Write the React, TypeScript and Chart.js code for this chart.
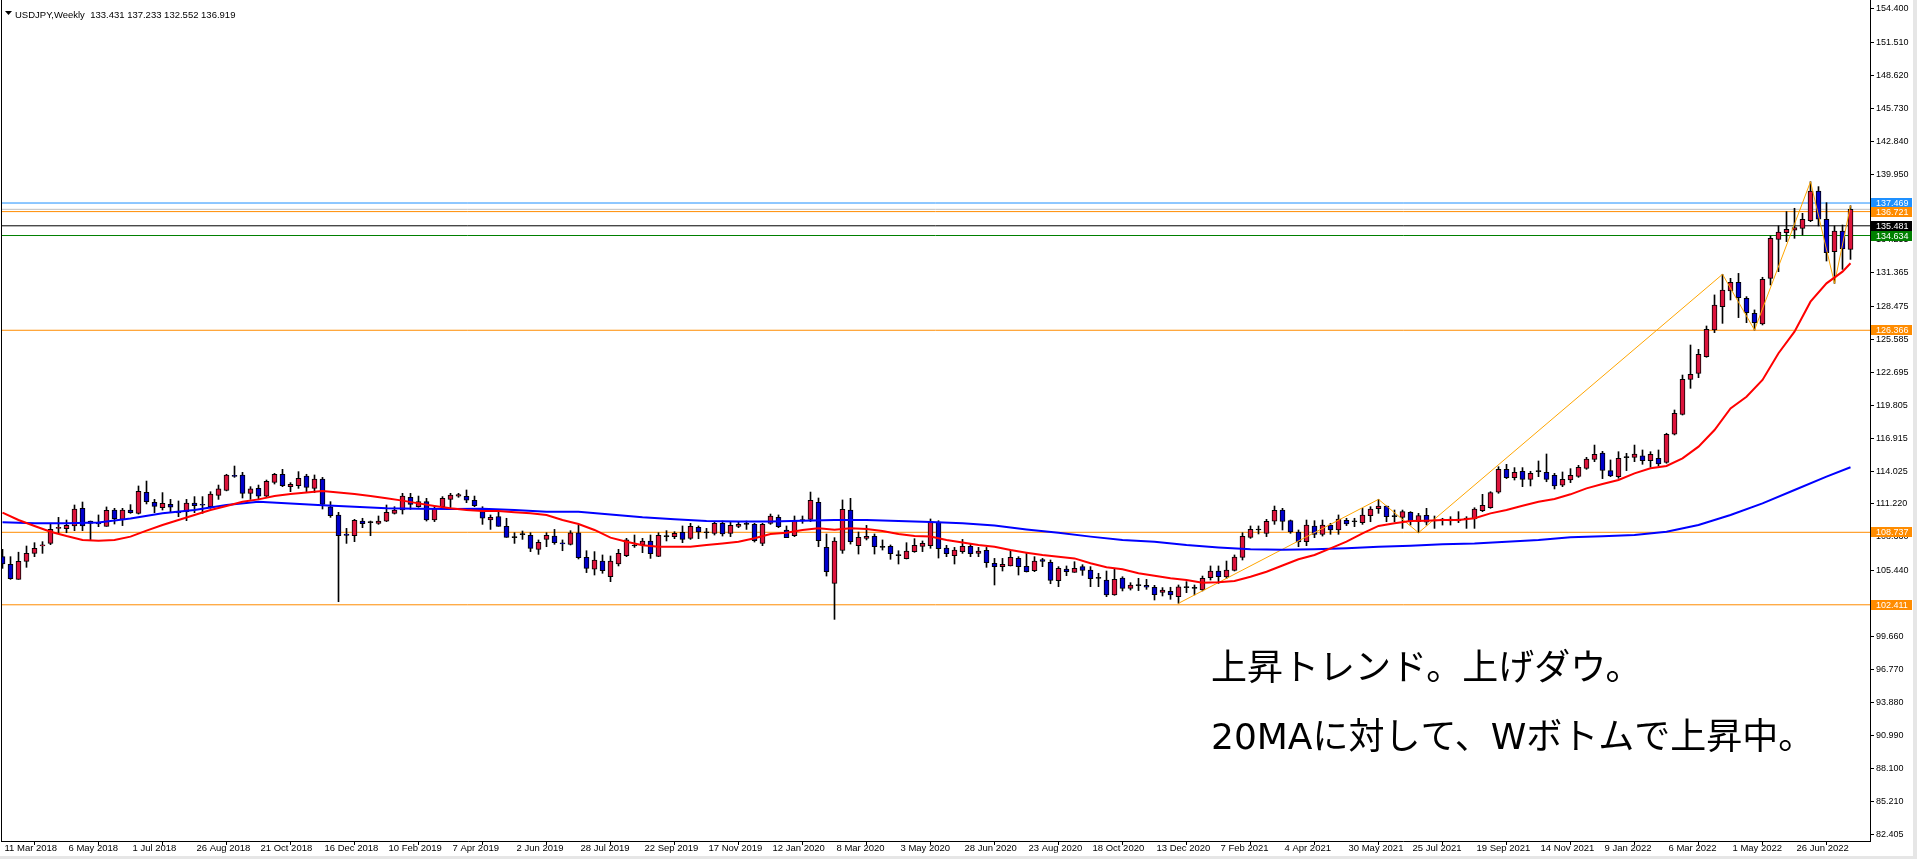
import React, { useEffect, useRef } from "react";
import { Chart, registerables } from "chart.js";

Chart.register(...registerables);

// ---------------- data ----------------
const symbolTitle = "USDJPY,Weekly";
const lastBarOHLC = ["133.431", "137.233", "132.552", "136.919"];

const xTickLabels = [
  "11 Mar 2018", "6 May 2018", "1 Jul 2018", "26 Aug 2018", "21 Oct 2018", "16 Dec 2018",
  "10 Feb 2019", "7 Apr 2019", "2 Jun 2019", "28 Jul 2019", "22 Sep 2019", "17 Nov 2019",
  "12 Jan 2020", "8 Mar 2020", "3 May 2020", "28 Jun 2020", "23 Aug 2020", "18 Oct 2020",
  "13 Dec 2020", "7 Feb 2021", "4 Apr 2021", "30 May 2021", "25 Jul 2021", "19 Sep 2021",
  "14 Nov 2021", "9 Jan 2022", "6 Mar 2022", "1 May 2022", "26 Jun 2022",
];
const xTickEvery = 8; // weeks between date labels

const yTickValues = [
  154.4, 151.51, 148.62, 145.73, 142.84, 139.95, 137.06, 134.255, 131.365, 128.475, 125.585,
  122.695, 119.805, 116.915, 114.025, 111.22, 108.33, 105.44, 102.55, 99.66, 96.77, 93.88,
  90.99, 88.1, 85.21, 82.405,
];

const opens = [
  106.61, 105.94, 104.63, 106.2, 106.9, 107.55, 107.77, 109.08, 109.05, 109.29,
  110.83, 109.72, 109.55, 109.26, 110.68, 109.87, 110.68, 110.39, 112.22, 111.35,
  110.89, 111.18, 110.48, 110.54, 111.29, 111.12, 110.97, 111.96, 112.4, 113.7,
  113.74, 112.14, 112.57, 111.88, 113.1, 113.8, 112.72, 112.81, 113.65, 112.57,
  113.39, 110.97, 110.25, 108.59, 108.44, 109.72, 109.58, 109.52, 109.7, 110.39,
  110.68, 111.79, 110.97, 111.41, 109.81, 110.97, 111.61, 111.88, 111.88, 111.53,
  110.54, 109.81, 110.1, 109.26, 108.27, 108.53, 108.47, 107.25, 108.12, 108.41,
  107.8, 107.69, 108.7, 106.55, 105.51, 106.23, 104.86, 105.97, 106.7, 107.54,
  107.63, 107.98, 106.64, 108.36, 108.36, 108.73, 108.21, 109.17, 108.7, 108.65,
  109.52, 108.65, 109.26, 109.43, 109.43, 107.77, 109.52, 110.04, 108.94, 108.44,
  109.75, 109.87, 111.35, 107.42, 104.28, 107.16, 110.68, 107.57, 108.21, 108.39,
  107.42, 107.51, 106.7, 106.44, 107.05, 107.51, 107.57, 109.63, 107.37, 106.7,
  107.05, 107.51, 106.9, 107.16, 106.03, 105.74, 105.8, 106.46, 105.77, 105.39,
  106.35, 106.12, 104.51, 105.53, 105.24, 105.74, 105.45, 104.72, 104.57, 103.27,
  104.75, 103.85, 104.08, 104.11, 103.94, 103.5, 103.59, 103.12, 103.91, 103.85,
  103.7, 104.78, 105.36, 104.84, 105.42, 106.55, 108.3, 108.94, 108.65, 109.7,
  110.68, 109.75, 108.76, 107.92, 109.29, 108.56, 109.37, 108.94, 109.78, 109.66,
  109.58, 110.19, 110.8, 111.03, 110.1, 110.04, 110.48, 109.66, 110.22, 109.72,
  109.81, 109.9, 109.72, 109.9, 109.9, 110.62, 110.88, 112.23, 114.23, 113.5,
  114.06, 113.36, 114.03, 113.97, 113.71, 112.86, 113.3, 113.62, 114.32, 115.1,
  115.66, 114.12, 113.59, 115.25, 115.28, 115.4, 114.99, 115.19, 114.84, 117.29,
  119.03, 122.08, 122.61, 124.06, 126.39, 128.42, 129.79, 130.55, 129.15, 127.85,
  126.91, 130.9, 134.3, 134.88, 135.09, 135.26, 135.93, 138.52, 136.05, 133.23,
  135.03, 133.431,
];
const highs = [
  107.25, 106.61, 107.0, 107.54, 107.83, 107.92, 109.46, 110.04, 109.81, 111.12,
  111.38, 109.72, 110.25, 110.95, 110.83, 110.83, 111.15, 112.78, 113.21, 111.61,
  112.2, 111.61, 111.47, 111.61, 111.85, 111.85, 112.28, 112.86, 113.8, 114.52,
  113.97, 112.72, 112.86, 113.3, 113.88, 114.23, 113.07, 114.03, 113.8, 113.74,
  113.53, 111.41, 110.48, 109.08, 109.87, 109.96, 109.72, 110.16, 111.12, 110.97,
  112.14, 112.14, 111.9, 111.7, 110.97, 111.85, 112.14, 112.14, 112.43, 111.9,
  110.97, 110.25, 110.68, 109.96, 108.7, 108.85, 108.7, 108.07, 108.7, 108.99,
  108.07, 108.88, 109.37, 107.13, 107.05, 106.76, 106.67, 107.25, 108.21, 108.5,
  108.21, 108.5, 108.7, 108.88, 108.79, 109.29, 109.52, 109.29, 109.08, 109.67,
  109.72, 109.67, 109.67, 109.72, 109.52, 109.52, 110.33, 110.25, 109.29, 110.16,
  110.16, 112.25, 111.73, 108.59, 108.27, 111.56, 111.7, 108.76, 109.34, 108.59,
  108.07, 107.63, 107.13, 107.83, 108.18, 107.98, 109.9, 109.75, 107.6, 107.42,
  108.12, 107.77, 107.42, 107.42, 106.46, 106.46, 107.19, 106.61, 106.9, 106.61,
  106.46, 106.32, 105.74, 105.8, 106.17, 105.91, 105.74, 105.16, 105.36, 105.59,
  104.86, 104.34, 104.72, 104.63, 104.11, 103.91, 103.94, 104.14, 104.43, 104.14,
  104.92, 105.8, 105.8, 106.23, 106.76, 108.7, 109.29, 109.29, 109.87, 111.03,
  110.83, 109.81, 108.94, 109.81, 109.75, 109.81, 109.52, 110.25, 109.96, 109.96,
  110.83, 110.97, 111.61, 111.03, 110.68, 110.68, 110.54, 110.39, 110.83, 110.16,
  109.96, 110.1, 110.54, 110.1, 110.88, 112.05, 112.28, 114.46, 114.67, 114.38,
  114.38, 114.06, 114.96, 115.57, 113.88, 114.0, 114.29, 114.58, 115.28, 116.35,
  115.8, 115.05, 115.77, 115.63, 116.35, 115.92, 115.77, 115.92, 117.38, 119.41,
  122.46, 125.08, 124.7, 126.74, 129.45, 131.25, 130.9, 131.33, 129.3, 128.14,
  130.99, 134.59, 135.47, 136.72, 137.01, 136.57, 139.33, 138.9, 137.5, 135.47,
  135.55, 137.233,
];
const lows = [
  105.59, 104.63, 104.63, 105.68, 106.61, 106.9, 107.66, 108.7, 108.7, 108.88,
  108.88, 108.01, 109.23, 109.26, 109.46, 109.32, 110.39, 110.33, 111.21, 110.45,
  110.68, 110.45, 110.1, 109.75, 110.45, 110.39, 110.83, 111.61, 112.35, 113.53,
  111.73, 111.61, 111.61, 111.79, 112.95, 112.72, 112.28, 112.57, 112.28, 112.2,
  110.77, 110.04, 102.68, 107.77, 107.92, 109.14, 108.44, 109.43, 109.67, 110.33,
  110.33, 110.74, 110.92, 109.72, 109.67, 110.92, 110.83, 111.79, 111.32, 110.97,
  109.43, 108.99, 109.26, 108.3, 107.77, 108.12, 107.05, 106.81, 107.48, 107.69,
  107.13, 107.63, 106.41, 105.22, 105.01, 105.16, 104.43, 105.8, 106.61, 107.42,
  106.96, 106.46, 106.61, 107.98, 108.18, 107.83, 108.12, 108.18, 108.21, 108.5,
  108.41, 108.36, 109.14, 108.99, 107.89, 107.57, 109.43, 109.14, 108.27, 108.36,
  109.52, 109.67, 107.48, 104.92, 101.14, 106.9, 107.71, 106.84, 108.07, 106.84,
  107.19, 106.38, 105.97, 106.41, 106.99, 107.05, 107.34, 106.49, 106.61, 105.97,
  106.9, 106.61, 106.61, 105.68, 104.14, 105.36, 105.8, 105.01, 105.27, 105.3,
  105.74, 104.25, 103.99, 104.95, 105.24, 104.98, 103.99, 103.99, 103.12, 103.24,
  103.62, 103.7, 103.65, 103.76, 102.83, 103.18, 102.89, 102.54, 103.47, 103.27,
  103.62, 104.57, 104.28, 104.69, 105.36, 106.32, 108.21, 108.59, 108.36, 109.43,
  108.94, 108.65, 107.48, 107.57, 108.27, 108.41, 108.56, 108.56, 109.32, 109.23,
  109.43, 109.66, 110.39, 109.66, 109.66, 109.08, 109.37, 108.7, 109.37, 109.08,
  109.37, 109.37, 109.58, 109.08, 109.08, 110.54, 110.83, 112.14, 113.42, 113.3,
  112.72, 112.78, 113.59, 113.15, 112.52, 112.72, 113.07, 113.53, 114.23, 114.9,
  113.42, 113.59, 113.45, 114.12, 114.9, 114.67, 114.41, 114.52, 114.76, 117.23,
  118.97, 121.3, 122.23, 124.01, 126.16, 126.97, 129.01, 127.47, 127.03, 126.39,
  126.83, 130.32, 131.48, 134.1, 134.39, 134.68, 135.84, 135.47, 132.41, 130.46,
  131.68, 132.552,
];
const closes = [
  105.97, 104.69, 106.2, 106.9, 107.34, 107.6, 108.99, 109.1, 109.35, 110.77,
  109.29, 109.52, 109.47, 110.65, 109.93, 110.68, 110.45, 112.31, 111.41, 111.0,
  111.27, 110.92, 110.43, 111.29, 111.06, 111.1, 112.08, 112.52, 113.74, 113.61,
  112.14, 112.52, 111.88, 113.18, 113.8, 112.81, 112.92, 113.45, 112.66, 113.39,
  111.18, 110.19, 108.44, 108.47, 109.78, 109.49, 109.58, 109.72, 110.48, 110.68,
  111.9, 111.18, 111.41, 109.81, 110.83, 111.7, 111.99, 112.02, 111.53, 111.06,
  109.96, 110.04, 109.26, 108.3, 108.27, 108.53, 107.34, 107.86, 108.47, 107.83,
  107.72, 108.7, 106.52, 105.59, 106.32, 105.39, 106.23, 106.9, 108.07, 107.54,
  107.98, 106.87, 108.47, 108.36, 108.65, 108.12, 109.26, 108.76, 108.7, 109.52,
  108.59, 109.34, 109.43, 109.43, 108.01, 109.43, 110.16, 109.23, 108.27, 109.78,
  109.75, 111.53, 108.01, 105.3, 107.98, 110.74, 107.92, 108.3, 108.39, 107.48,
  107.42, 106.87, 106.7, 107.1, 107.6, 107.77, 109.66, 107.31, 106.87, 107.19,
  107.51, 106.87, 107.1, 106.09, 105.74, 105.94, 106.55, 105.74, 105.3, 106.23,
  106.2, 104.54, 105.59, 105.3, 105.59, 105.42, 104.69, 104.72, 103.27, 104.63,
  103.85, 104.14, 104.08, 103.94, 103.3, 103.7, 103.27, 103.97, 103.91, 103.85,
  104.72, 105.36, 104.86, 105.45, 106.58, 108.39, 108.99, 108.94, 109.7, 110.65,
  109.68, 108.76, 107.89, 109.37, 108.56, 109.37, 108.94, 109.9, 109.46, 109.66,
  110.25, 110.77, 111.03, 110.1, 110.1, 110.54, 109.66, 110.19, 109.63, 109.72,
  109.81, 109.72, 109.9, 109.9, 110.77, 111.09, 112.2, 114.23, 113.5, 113.97,
  113.36, 113.88, 114.03, 113.36, 112.78, 113.36, 113.71, 114.41, 115.13, 115.54,
  114.13, 113.65, 115.19, 115.25, 115.57, 114.99, 115.54, 114.7, 117.29, 119.12,
  122.08, 122.52, 124.27, 126.45, 128.57, 129.88, 130.55, 129.21, 127.9, 127.03,
  130.81, 134.39, 134.94, 135.17, 135.32, 136.05, 138.52, 136.05, 133.14, 135.03,
  133.46, 136.919,
];

// 20-week moving average (red), read at every second bar
const ma20Bars = [
  0, 2, 4, 6, 8, 10, 12, 14, 16, 18, 20, 22, 24, 26, 28, 30, 32, 34, 36, 38,
  40, 42, 44, 46, 48, 50, 52, 54, 56, 58, 60, 62, 64, 66, 68, 70, 72, 74, 76, 78,
  80, 82, 84, 86, 88, 90, 92, 94, 96, 98, 100, 102, 104, 106, 108, 110, 112, 114, 116, 118,
  120, 122, 124, 126, 128, 130, 132, 134, 136, 138, 140, 142, 144, 146, 148, 150, 152, 154, 156, 158,
  160, 162, 164, 166, 168, 170, 172, 174, 176, 178, 180, 182, 184, 186, 188, 190, 192, 194, 196, 198,
  200, 202, 204, 206, 208, 210, 212, 214, 216, 218, 220, 222, 224, 226, 228, 230, 231,
];
const ma20Values = [
  110.45, 109.81, 109.29, 108.79, 108.41, 108.07, 108.01, 108.07, 108.36, 108.88,
  109.37, 109.81, 110.25, 110.68, 111.03, 111.41, 111.61, 111.9, 112.08, 112.22,
  112.35, 112.22, 112.08, 111.9, 111.7, 111.5, 111.26, 111.03, 110.83, 110.68,
  110.6, 110.6, 110.48, 110.39, 110.25, 109.81, 109.46, 108.94, 108.27, 107.92,
  107.6, 107.48, 107.48, 107.48, 107.63, 107.77, 107.92, 108.21, 108.59, 108.7,
  108.94, 109.08, 108.97, 109.08, 109.02, 108.85, 108.59, 108.41, 108.36, 108.07,
  107.85, 107.63, 107.48, 107.19, 106.96, 106.76, 106.61, 106.46, 106.03, 105.68,
  105.51, 105.16, 104.95, 104.72, 104.57, 104.34, 104.37, 104.49, 104.86, 105.3,
  105.84, 106.38, 106.76, 107.34, 107.92, 108.65, 109.29, 109.52, 109.72, 109.75,
  109.81, 109.81, 109.96, 110.39, 110.68, 111.06, 111.41, 111.64, 112.05, 112.57,
  112.95, 113.3, 113.88, 114.32, 114.52, 115.19, 116.21, 117.66, 119.55, 120.57,
  122.03, 124.36, 126.25, 128.86, 130.46, 131.48, 132.21,
];

// long moving average (blue), read at every fourth bar
const ma100Bars = [
  0, 4, 8, 12, 16, 20, 24, 28, 32, 36, 40, 44, 48, 52, 56, 60, 64, 68, 72, 76,
  80, 84, 88, 92, 96, 100, 104, 108, 112, 116, 120, 124, 128, 132, 136, 140, 144, 148, 152, 156,
  160, 164, 168, 172, 176, 180, 184, 188, 192, 196, 200, 204, 208, 212, 216, 220, 224, 228, 231,
];
const ma100Values = [
  109.61, 109.52, 109.52, 109.6, 109.95, 110.39, 110.68, 111.12, 111.41, 111.26,
  111.1, 110.97, 110.83, 110.8, 110.77, 110.8, 110.68, 110.54, 110.54, 110.3,
  110.04, 109.87, 109.72, 109.67, 109.67, 109.75, 109.81, 109.81, 109.72, 109.64,
  109.52, 109.32, 108.99, 108.7, 108.36, 108.07, 107.92, 107.63, 107.42, 107.25,
  107.22, 107.25, 107.34, 107.48, 107.57, 107.69, 107.77, 107.92, 108.07, 108.3,
  108.4, 108.5, 108.79, 109.37, 110.25, 111.26, 112.43, 113.59, 114.41,
];

// ZigZag turning points
const zigzagBars = [147, 172, 177, 215, 219, 226, 229, 231];
const zigzagValues = [102.54, 111.61, 108.7, 131.25, 126.39, 139.33, 130.46, 137.233];

// horizontal price levels
const levelPrices = [137.469, 136.919, 136.721, 135.481, 134.634, 126.366, 108.737, 102.411];
const levelColors = ["#1E90FF", "#C0C0C0", "#FF8C00", "#000000", "#008000", "#FF8C00", "#FF8C00", "#FF8C00"];
const levelTagShown = [true, false, true, true, true, true, true, true];

const noteLines = ["上昇トレンド。上げダウ。", "20MAに対して、Wボトムで上昇中。"];

// ---------------- chart ----------------
const W = 1917;
const H = 859;
const AXIS_FONT = "'Liberation Sans', 'DejaVu Sans', sans-serif";
const NOTE_FONT = "36px 'DejaVu Sans', 'Noto Sans CJK JP', sans-serif";

const overlayPlugin = {
  id: "mt4overlay",
  afterDraw(chart: any) {
    const ctx = chart.ctx;
    const area = chart.chartArea;
    const ys = chart.scales.y;
    ctx.save();
    // left frame line
    ctx.fillStyle = "#000";
    ctx.fillRect(Math.floor(area.left), 0, 1, Math.ceil(area.bottom));
    // price tags
    ctx.font = "9px " + AXIS_FONT;
    ctx.textBaseline = "middle";
    ctx.textAlign = "left";
    levelPrices.forEach((p, i) => {
      if (!levelTagShown[i]) return;
      const y = Math.round(ys.getPixelForValue(p));
      ctx.fillStyle = levelColors[i];
      ctx.fillRect(area.right + 1, y - 5, 41, 10);
      ctx.fillStyle = "#fff";
      ctx.fillText(p.toFixed(3), area.right + 6, y + 0.5);
    });
    // title
    ctx.fillStyle = "#000";
    ctx.beginPath();
    ctx.moveTo(5, 11);
    ctx.lineTo(12, 11);
    ctx.lineTo(8.5, 15);
    ctx.closePath();
    ctx.fill();
    ctx.font = "9.5px 'Liberation Sans', sans-serif";
    ctx.textBaseline = "alphabetic";
    ctx.fillText(symbolTitle + "  " + lastBarOHLC.join(" "), 15, 18);
    // note text
    ctx.font = NOTE_FONT;
    ctx.textBaseline = "middle";
    ctx.fillText(noteLines[0], 1211, 671);
    ctx.fillText(noteLines[1], 1211, 740);
    // window frame at right / bottom
    ctx.fillStyle = "#E6E6E6";
    ctx.fillRect(W - 4, 0, 4, H);
    ctx.fillRect(0, H - 3, W, 3);
    ctx.restore();
  },
};

export default function App() {
  const ref = useRef<HTMLCanvasElement | null>(null);

  useEffect(() => {
    document.body.style.margin = "0";
    document.body.style.background = "#fff";
    const canvas = ref.current;
    if (!canvas) return;

    const bodyColors = opens.map((o, i) =>
      closes[i] > o ? "#DC143C" : closes[i] < o ? "#0000CD" : "#000000"
    );
    const levelDatasets = levelPrices.map((p, i) => ({
      type: "line" as const,
      data: [
        { x: -5, y: p },
        { x: 240, y: p },
      ],
      borderColor: levelColors[i],
      borderWidth: 1,
      pointRadius: 0,
      order: 3,
    }));

    const chart = new Chart(canvas, {
      type: "bar",
      data: {
        datasets: [
          {
            type: "line",
            data: ma20Bars.map((b, i) => ({ x: b, y: ma20Values[i] })),
            borderColor: "#FF0000",
            borderWidth: 2,
            pointRadius: 0,
            order: -2,
          },
          {
            type: "line",
            data: ma100Bars.map((b, i) => ({ x: b, y: ma100Values[i] })),
            borderColor: "#0000FF",
            borderWidth: 2,
            pointRadius: 0,
            order: -2,
          },
          {
            type: "line",
            data: zigzagBars.map((b, i) => ({ x: b, y: zigzagValues[i] })),
            borderColor: "#FFA500",
            borderWidth: 1,
            pointRadius: 0,
            order: -1,
          },
          {
            type: "bar",
            data: opens.map((o, i) => ({ x: i, y: [o, closes[i]] })),
            backgroundColor: bodyColors,
            borderColor: "#000",
            borderWidth: 1,
            borderSkipped: false,
            barThickness: 5,
            minBarLength: 1,
            grouped: false,
            order: 0,
          },
          {
            type: "bar",
            data: lows.map((l, i) => ({ x: i, y: [l, highs[i]] })),
            backgroundColor: "#000",
            barThickness: 1,
            grouped: false,
            order: 1,
          },
          ...levelDatasets,
        ] as any,
      },
      options: {
        responsive: false,
        animation: false,
        events: [],
        layout: { padding: { left: 1, top: 0, right: 0, bottom: 0 }, autoPadding: false },
        plugins: { legend: { display: false }, tooltip: { enabled: false } },
        scales: {
          x: {
            type: "linear",
            position: "bottom",
            min: -0.1875,
            max: 233.4375,
            bounds: "data",
            offset: false,
            grid: { drawOnChartArea: false, drawTicks: true, tickLength: 4, color: "#000" },
            border: { display: true, color: "#000" },
            ticks: {
              autoSkip: false,
              maxRotation: 0,
              minRotation: 0,
              align: "start",
              padding: -2,
              labelOffset: 2,
              color: "#000",
              font: { family: AXIS_FONT, size: 9.5 },
              callback: (_v: any, idx: number) => xTickLabels[idx],
            },
            afterBuildTicks: (s: any) => {
              s.ticks = xTickLabels.map((_, k) => ({ value: k * xTickEvery }));
            },
            afterFit: (s: any) => {
              s.height = 18;
              s.paddingLeft = 0;
              s.paddingRight = 0;
            },
          },
          y: {
            type: "linear",
            position: "right",
            min: 81.8,
            max: 155.185,
            bounds: "data",
            grid: { drawOnChartArea: false, drawTicks: true, tickLength: 4, color: "#000" },
            border: { display: true, color: "#000" },
            ticks: {
              padding: 2,
              color: "#000",
              font: { family: AXIS_FONT, size: 9 },
              callback: (v: any) => Number(v).toFixed(3),
            },
            afterBuildTicks: (s: any) => {
              s.ticks = yTickValues.map((v) => ({ value: v }));
            },
            afterFit: (s: any) => {
              s.width = 47;
              s.paddingTop = 0;
              s.paddingBottom = 0;
            },
          },
        },
      } as any,
      plugins: [overlayPlugin],
    });

    return () => chart.destroy();
  }, []);

  return (
    <div style={{ width: W, height: H, background: "#fff" }}>
      <canvas ref={ref} width={W} height={H} style={{ display: "block" }} />
    </div>
  );
}
